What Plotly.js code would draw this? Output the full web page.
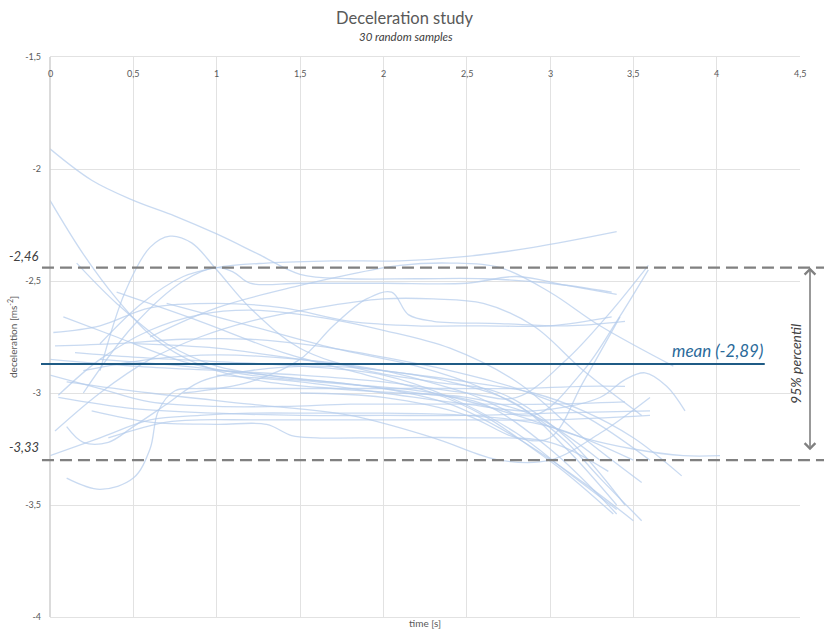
<!DOCTYPE html>
<html><head><meta charset="utf-8">
<script src="https://cdn.plot.ly/plotly-3.0.1.min.js"></script>
<style>html,body{margin:0;padding:0;background:#fff}#chart{width:824px;height:630px}</style>
</head><body><div id="chart"></div>
<script>
// Tick labels
const xTickVals = [0,0.5,1,1.5,2,2.5,3,3.5,4,4.5];
const xTickText = ['0','0,5','1','1,5','2','2,5','3','3,5','4','4,5'];
const yTickVals = [-1.5,-2,-2.5,-3,-3.5,-4];
const yTickText = ['-1,5','-2','-2,5','-3','-3,5','-4'];

// Reference values
const upperP = -2.44, upperLabel = '-2,46';
const lowerP = -3.30, lowerLabel = '-3,33';
const meanVal = -2.87, meanLabel = 'mean (-2,89)';

// 30 random samples: time [s] and deceleration [ms^-2]
const t01=[0,0.25,0.5,0.75,1,1.25,1.5,1.8,2.2,2.6,3.0,3.37];
const a01=[-1.91,-2.05,-2.14,-2.21,-2.29,-2.38,-2.47,-2.49,-2.49,-2.49,-2.51,-2.55];
const t02=[0,0.2,0.4,0.6,0.8,1.0,1.3,1.7,2.1,2.5,2.9,3.3];
const a02=[-2.14,-2.38,-2.58,-2.74,-2.84,-2.9,-2.95,-2.98,-3.0,-3.02,-3.1,-3.3];
const t03=[0.3,0.55,0.8,1.0,1.3,1.7,2.1,2.5,2.9,3.4];
const a03=[-2.78,-2.6,-2.48,-2.44,-2.42,-2.41,-2.41,-2.39,-2.35,-2.28];
const t04=[0.3,0.45,0.6,0.72,0.85,1.0,1.2,1.5,1.9,2.3,2.7,3.1,3.45];
const a04=[-2.9,-2.55,-2.35,-2.3,-2.33,-2.45,-2.62,-2.8,-2.9,-2.95,-3.0,-3.2,-3.5];
const t05=[0.2,0.5,0.8,1.0,1.1,1.2,1.5,2.0,2.5,2.8,3.1,3.4];
const a05=[-3.0,-2.7,-2.5,-2.44,-2.46,-2.51,-2.51,-2.51,-2.51,-2.48,-2.52,-2.56];
const t06=[0.6,1.0,1.5,1.8,2.1,2.4,2.7,3.0,3.3,3.74];
const a06=[-2.75,-2.62,-2.52,-2.47,-2.43,-2.42,-2.44,-2.55,-2.7,-2.88];
const t07=[0.8,1.2,1.5,1.7,1.9,2.05,2.15,2.3,2.7,3.1,3.45];
const a07=[-3.0,-2.95,-2.85,-2.7,-2.58,-2.55,-2.65,-2.68,-2.69,-2.7,-2.68];
const t08=[0.1,0.3,0.5,0.6,0.65,0.75,0.9,1.2,1.6,2.0,2.4,2.8,3.2,3.45];
const a08=[-3.38,-3.43,-3.38,-3.25,-3.08,-2.99,-2.98,-2.98,-2.98,-2.98,-2.98,-2.98,-2.97,-2.97];
const t09=[0.16,0.4,0.7,1.0,1.4,1.8,2.2,2.6,3.0,3.4];
const a09=[-2.42,-2.6,-2.78,-2.88,-2.93,-2.96,-3.0,-3.05,-3.25,-3.54];
const t10=[0.08,0.4,0.8,1.2,1.6,2.0,2.4,2.8,3.2,3.5];
const a10=[-2.66,-2.75,-2.86,-2.92,-2.95,-2.98,-3.05,-3.2,-3.4,-3.57];
const t11=[0.02,0.3,0.6,1.0,1.4,1.8,2.2,2.6,3.0,3.37];
const a11=[-2.73,-2.7,-2.62,-2.6,-2.62,-2.68,-2.7,-2.7,-2.7,-2.66];
const t12=[0.03,0.4,0.8,1.2,1.6,2.0,2.4,2.8,3.2,3.6];
const a12=[-2.79,-2.78,-2.76,-2.76,-2.79,-2.84,-2.9,-2.98,-3.1,-3.3];
const t13=[0.05,0.3,0.6,0.9,1.2,1.6,2.0,2.4,2.8,3.2,3.55];
const a13=[-3.01,-2.85,-2.72,-2.65,-2.63,-2.66,-2.72,-2.8,-2.95,-3.2,-3.4];
const t14=[0,0.3,0.6,1.0,1.4,1.8,2.2,2.6,3.0,3.45];
const a14=[-2.92,-2.98,-3.04,-3.06,-3.06,-3.05,-3.05,-3.05,-3.05,-3.04];
const t15=[0.03,0.3,0.6,0.9,1.2,1.6,2.0,2.3,2.6,2.9,3.2,3.55];
const a15=[-3.17,-3.0,-2.85,-2.75,-2.68,-2.62,-2.58,-2.58,-2.6,-2.7,-2.9,-3.1];
const t16=[0.1,0.2,0.35,0.5,0.7,0.9,1.2,1.6,2.0,2.4,2.8,3.1,3.4];
const a16=[-3.15,-3.22,-3.22,-3.15,-3.05,-2.95,-2.9,-2.88,-2.9,-2.95,-3.05,-3.25,-3.5];
const t17=[0.05,0.5,1.0,1.5,2.0,2.5,3.0,3.6];
const a17=[-3.02,-3.07,-3.09,-3.1,-3.1,-3.1,-3.09,-3.08];
const t18=[0.25,0.6,1.0,1.3,1.45,1.6,2.0,2.5,3.0,3.35];
const a18=[-3.08,-3.13,-3.14,-3.14,-3.19,-3.2,-3.2,-3.2,-3.22,-3.35];
const t19=[0.35,0.7,0.9,1.2,1.6,2.0,2.5,3.0,3.6];
const a19=[-3.2,-3.13,-3.12,-3.12,-3.12,-3.12,-3.12,-3.12,-3.1];
const t20=[0,0.3,0.6,0.9,1.2,1.6,2.0,2.5,3.0,3.5];
const a20=[-3.28,-3.2,-3.12,-3.1,-3.09,-3.09,-3.09,-3.1,-3.15,-3.3];
const t21=[0.3,0.8,1.3,1.8,2.3,2.8,3.2,3.5,3.8,4.02];
const a21=[-2.85,-2.88,-2.92,-2.96,-3.0,-3.1,-3.2,-3.25,-3.28,-3.28];
const t22=[1.0,1.5,2.0,2.5,2.9,3.3,3.45,3.57,3.7,3.81];
const a22=[-2.92,-2.95,-3.0,-3.05,-3.08,-3.02,-2.94,-2.91,-2.97,-3.08];
const t23=[0,0.5,1,1.5,2,2.5,2.8,3.1,3.35,3.59];
const a23=[-2.85,-2.88,-2.9,-2.92,-2.95,-3.0,-3.02,-2.85,-2.65,-2.43];
const t24=[0.2,0.6,1.0,1.5,2.0,2.5,2.9,3.2,3.4,3.59];
const a24=[-2.9,-2.85,-2.83,-2.85,-2.9,-3.0,-3.1,-2.9,-2.68,-2.45];
const t25=[0.5,1.0,1.5,2.0,2.5,2.9,3.2,3.5,3.79];
const a25=[-2.78,-2.8,-2.85,-2.9,-2.95,-3.0,-3.08,-3.2,-3.37];
const t26=[0.7,1.2,1.7,2.2,2.6,2.9,3.1,3.3,3.55];
const a26=[-2.6,-2.7,-2.8,-2.88,-2.98,-3.1,-3.22,-3.38,-3.57];
const t27=[0.4,0.9,1.4,1.9,2.3,2.6,2.9,3.1,3.38];
const a27=[-2.55,-2.68,-2.82,-2.92,-3.0,-3.1,-3.25,-3.36,-3.54];
const t28=[1.5,2.0,2.5,2.8,3.0,3.2,3.42];
const a28=[-3.0,-3.02,-3.1,-3.2,-3.2,-2.95,-2.66];
const t29=[0.1,0.6,1.2,1.8,2.3,2.7,3.0,3.3,3.6];
const a29=[-2.95,-3.0,-3.05,-3.1,-3.2,-3.3,-3.3,-3.18,-3.02];
const t30=[0.15,0.5,1.0,1.5,2.0,2.4,2.8,3.1,3.4];
const a30=[-2.82,-2.84,-2.86,-2.88,-2.92,-3.02,-3.18,-3.35,-3.52];

const times=[t01,t02,t03,t04,t05,t06,t07,t08,t09,t10,t11,t12,t13,t14,t15,t16,t17,t18,t19,t20,t21,t22,t23,t24,t25,t26,t27,t28,t29,t30];
const decels=[a01,a02,a03,a04,a05,a06,a07,a08,a09,a10,a11,a12,a13,a14,a15,a16,a17,a18,a19,a20,a21,a22,a23,a24,a25,a26,a27,a28,a29,a30];

const yMin=-4, yMax=-1.5;
const py = v => (v - yMin)/(yMax - yMin);

const traces = times.map((t,i)=>({
  x:t, y:decels[i], type:'scatter', mode:'lines',
  line:{color:'rgba(180,204,236,0.72)', width:1.3, shape:'spline', smoothing:1},
  hoverinfo:'skip', showlegend:false
}));

const F = 'Lato, "Open Sans", sans-serif';

const xLabelAnnots = xTickVals.map((v,i)=>({
  text:xTickText[i], xref:'x', yref:'paper', x:v, y:1-(73-57)/560,
  xanchor:'center', yanchor:'middle', showarrow:false,
  font:{family:F, size:9, color:'#595959'}
}));

const layout = {
  width:824, height:630,
  margin:{l:50, r:24, t:57, b:13},
  paper_bgcolor:'#fff', plot_bgcolor:'#fff',
  showlegend:false,
  xaxis:{range:[0,4.5], side:'top', tickvals:xTickVals, showticklabels:false,
    showgrid:true, gridcolor:'#e2e2e2', gridwidth:1, zeroline:false,
    showline:true, linecolor:'#e2e2e2', linewidth:1, mirror:true, fixedrange:true},
  yaxis:{range:[yMin,yMax], tickvals:yTickVals, ticktext:yTickText,
    ticklabelstandoff:8,
    showgrid:true, gridcolor:'#e2e2e2', gridwidth:1, zeroline:false,
    showline:false,
    tickfont:{family:F, size:9, color:'#595959'}, fixedrange:true},
  shapes:[
    {type:'line', xref:'paper', yref:'paper', x0:0, x1:0, y0:0, y1:1, line:{color:'#cfcfcf', width:1.5}},
    {type:'line', xref:'paper', yref:'paper', x0:-0.0107, x1:1.035, y0:py(upperP), y1:py(upperP), line:{color:'#808080', width:2.2, dash:'12px,6px'}},
    {type:'line', xref:'paper', yref:'paper', x0:-0.0107, x1:1.035, y0:py(lowerP), y1:py(lowerP), line:{color:'#808080', width:2.2, dash:'12px,6px'}},
    {type:'line', xref:'paper', yref:'paper', x0:-0.012, x1:0.953, y0:py(meanVal), y1:py(meanVal), line:{color:'#1f5b85', width:2}}
  ],
  annotations:xLabelAnnots.concat([
    {text:'Deceleration study', xref:'paper', yref:'paper', x:0.473, y:1+(57-18)/560, xanchor:'center', yanchor:'middle', showarrow:false, font:{family:F, size:16.5, color:'#595959'}},
    {text:'<i>30 random samples</i>', xref:'paper', yref:'paper', x:0.474, y:1+(57-37)/560, xanchor:'center', yanchor:'middle', showarrow:false, font:{family:F, size:11.5, color:'#404040'}},
    {text:'time [s]', xref:'paper', yref:'paper', x:0.5, y:-(623-617)/560, xanchor:'center', yanchor:'middle', showarrow:false, font:{family:F, size:10, color:'#595959'}},
    {text:'deceleration [ms<sup>-2</sup>]', xref:'paper', yref:'paper', x:-(50-12)/750, y:0.5, xanchor:'center', yanchor:'middle', textangle:-90, showarrow:false, font:{family:F, size:10, color:'#595959'}},
    {text:'<i>'+upperLabel+'</i>', xref:'paper', yref:'paper', x:-(50-41)/750, y:py(upperP)+(267-255)/560, xanchor:'right', yanchor:'middle', showarrow:false, font:{family:F, size:13, color:'#404040'}},
    {text:'<i>'+lowerLabel+'</i>', xref:'paper', yref:'paper', x:-(50-41)/750, y:py(lowerP)+(460-447)/560, xanchor:'right', yanchor:'middle', showarrow:false, font:{family:F, size:13, color:'#404040'}},
    {text:'<i>'+meanLabel+'</i>', xref:'paper', yref:'paper', x:0.953, y:py(meanVal)+(363-350)/560, xanchor:'right', yanchor:'middle', showarrow:false, font:{family:F, size:17, color:'#2a6a9a'}},
    {text:'<i>95% percentil</i>', xref:'paper', yref:'paper', x:(796-50)/750, y:py((upperP+lowerP)/2), xanchor:'center', yanchor:'middle', textangle:-90, showarrow:false, font:{family:F, size:14, color:'#404040'}},
    {text:' ', xref:'paper', yref:'paper', x:(810-50)/750, y:py(upperP), ax:(810-50)/750, ay:py(lowerP), axref:'paper', ayref:'paper',
      showarrow:true, arrowhead:4, startarrowhead:4, arrowside:'end+start', arrowsize:1.3, startarrowsize:1.3, arrowwidth:1.6, arrowcolor:'#808080', standoff:0, startstandoff:0}
  ])
};
Plotly.newPlot('chart', traces, layout, {staticPlot:true, displayModeBar:false});
</script></body></html>
